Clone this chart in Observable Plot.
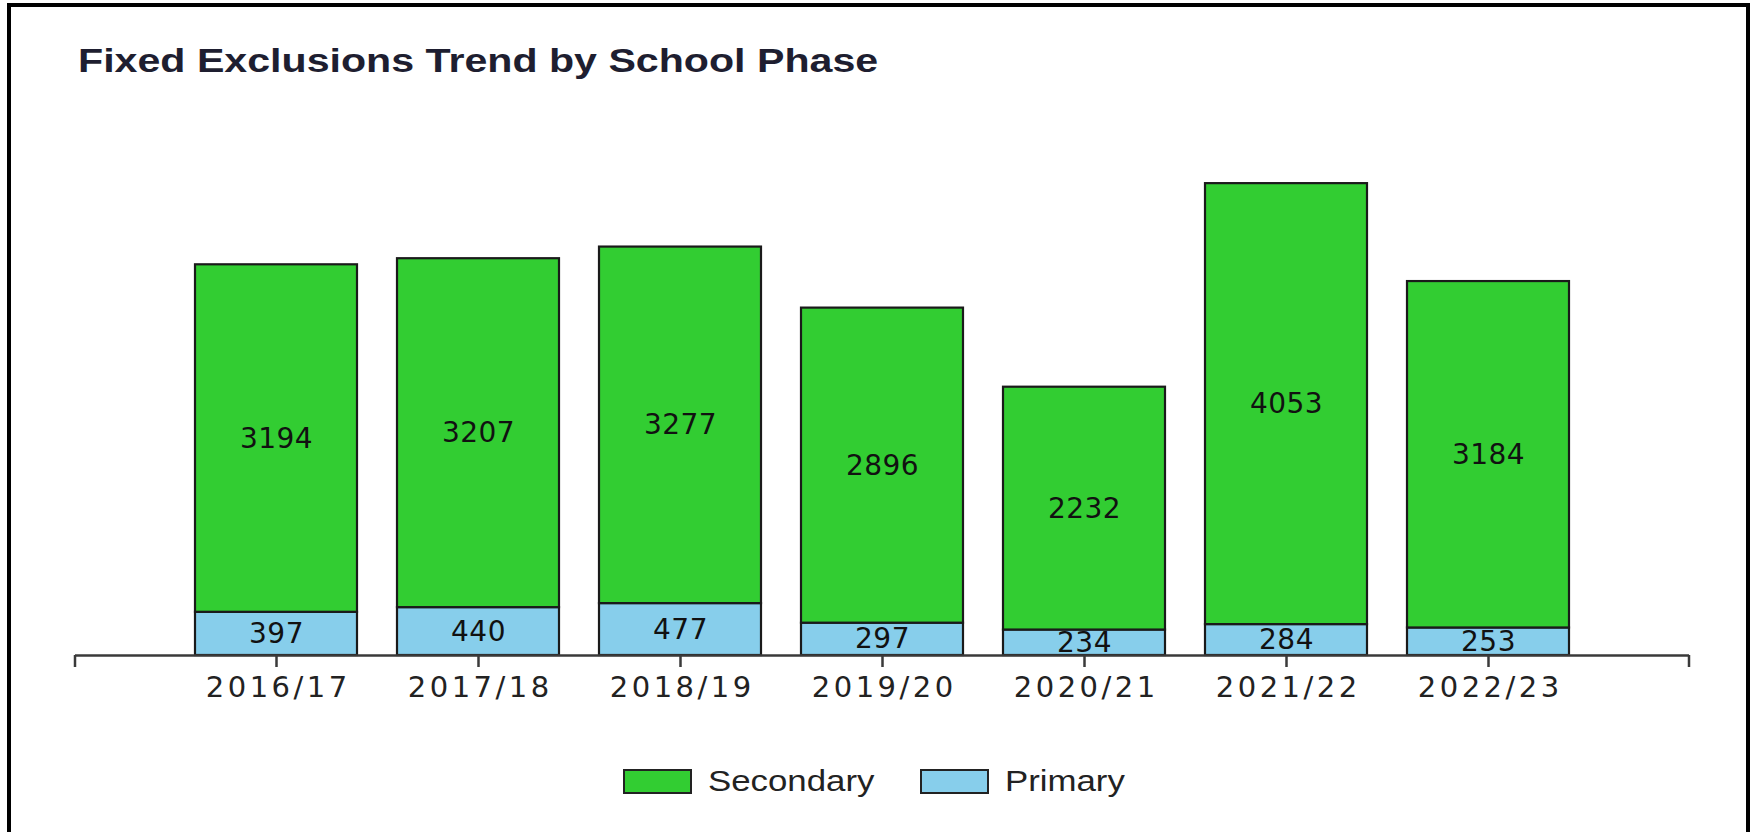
<!DOCTYPE html>
<html>
<head>
<meta charset="utf-8">
<script src="https://cdn.jsdelivr.net/npm/d3@7"></script>
<script src="https://cdn.jsdelivr.net/npm/@observablehq/plot@0.6"></script>
<style>
html, body { margin: 0; padding: 0; width: 1750px; height: 832px; overflow: hidden; background: #fff; }
#frame { position: absolute; left: 7px; top: 3px; width: 1735px; height: 900px; border: 4px solid #000; }
#title { position: absolute; left: 78px; top: 43px; font-family: "Liberation Sans", Arial, sans-serif; font-weight: bold; font-size: 34px; line-height: 34px; color: #1e1e30; white-space: nowrap; transform: scaleX(1.21); transform-origin: left center; }
#chart { position: absolute; left: 0; top: 0; }
.sw { position: absolute; top: 769px; width: 69px; height: 25px; box-sizing: border-box; border: 2px solid #222; }
.lt { position: absolute; top: 767px; font-family: "Liberation Sans", Arial, sans-serif; font-size: 29px; line-height: 29px; color: #222; white-space: nowrap; transform: scaleX(1.2); transform-origin: left center; }
</style>
</head>
<body>
<div id="frame"></div>
<div id="title">Fixed Exclusions Trend by School Phase</div>
<div id="chart"></div>
<div id="legend"></div>
<script>
const years = ["2016/17", "2017/18", "2018/19", "2019/20", "2020/21", "2021/22", "2022/23"];
const secondary = [3194, 3207, 3277, 2896, 2232, 4053, 3184];
const primary = [397, 440, 477, 297, 234, 284, 253];
const phases = ["Primary", "Secondary"];
const phaseColors = ["#87ceeb", "#32cd32"];
const legendOrder = ["Secondary", "Primary"];
const yDomain = [0, 5000];

const data = years.flatMap((year, i) => [
  {year, phase: "Primary", value: primary[i]},
  {year, phase: "Secondary", value: secondary[i]}
]);

const endTicks = (index, scales, values, dims) => {
  const g = d3.create("svg:g").attr("stroke", "#3a3a3a").attr("stroke-width", 2.5);
  const y0 = scales.y(0);
  for (const x of [dims.marginLeft, dims.width - dims.marginRight]) {
    g.append("line").attr("x1", x).attr("x2", x).attr("y1", y0).attr("y2", y0 + 12);
  }
  return g.node();
};

const svg = Plot.plot({
  width: 1750,
  height: 720,
  marginLeft: 75,
  marginRight: 61,
  marginTop: 111,
  marginBottom: 65,
  style: {background: "transparent", fontFamily: "DejaVu Sans", fontSize: "27px", color: "#222"},
  x: {domain: years, paddingInner: 0.2, paddingOuter: 0.595, axis: null},
  y: {domain: yDomain, axis: null},
  color: {domain: phases, range: phaseColors},
  marks: [
    Plot.barY(data, {x: "year", y: "value", fill: "phase", order: phases, stroke: "#1a1a1a", strokeWidth: 2.2}),
    Plot.text(data, Plot.stackY({x: "year", y: "value", z: "phase", order: phases, text: d => String(d.value), fill: "#111", fontSize: 28})),
    Plot.ruleY([0], {stroke: "#3a3a3a", strokeWidth: 2.5}),
    endTicks,
    Plot.axisX({anchor: "bottom", tickSize: 12, tickPadding: 9, fontSize: 29, label: null, stroke: "#3a3a3a", strokeWidth: 2.5, fill: "#222"})
  ]
});

svg.querySelectorAll('[aria-label="x-axis tick label"] text').forEach(t => {
  t.setAttribute("letter-spacing", "3.5");
  t.setAttribute("dx", "1.75");
});
svg.querySelectorAll('[aria-label="text"] text').forEach(t => {
  t.setAttribute("letter-spacing", "0.5");
});
document.getElementById("chart").appendChild(svg);

const legendPos = {Secondary: [623, 708], Primary: [920, 1005]};
const legend = document.getElementById("legend");
legendOrder.forEach(p => {
  const sw = document.createElement("div");
  sw.className = "sw";
  sw.style.left = legendPos[p][0] + "px";
  sw.style.background = phaseColors[phases.indexOf(p)];
  legend.appendChild(sw);
  const lt = document.createElement("div");
  lt.className = "lt";
  lt.style.left = legendPos[p][1] + "px";
  lt.textContent = p;
  legend.appendChild(lt);
});
</script>
</body>
</html>
